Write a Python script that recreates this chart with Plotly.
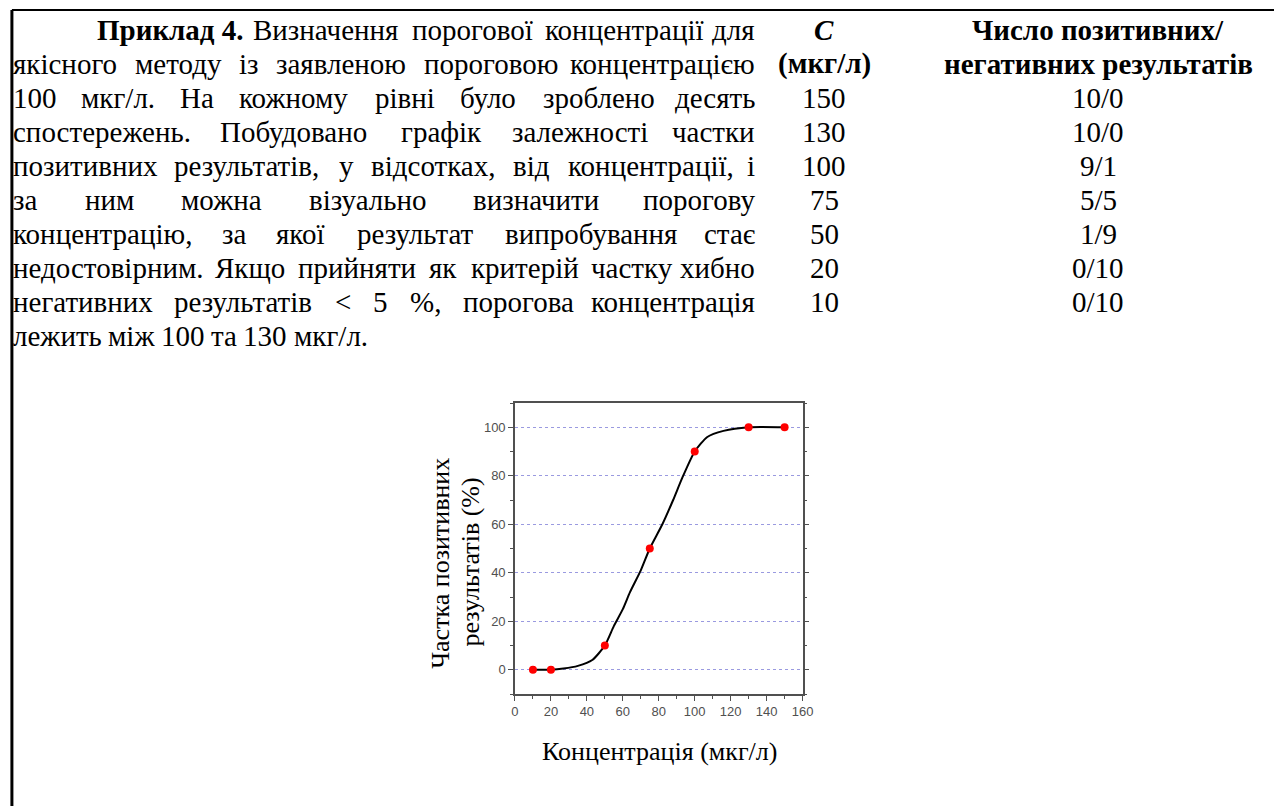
import plotly.graph_objects as go

# ---------------- data ----------------
conc_points = [10, 20, 50, 75, 100, 130, 150]
pct_points = [0, 0, 10, 50, 90, 100, 100]

curve_x = [10, 20, 27, 35, 43, 50, 55, 60, 64, 70, 75, 82, 88, 93, 100, 107, 116, 130, 150]
curve_y = [0, 0, 0.5, 1.6, 4, 10, 18, 25, 32, 41, 50, 60, 70, 79, 90, 96, 98.5, 100, 100]

table_c = ["150", "130", "100", "75", "50", "20", "10"]
table_ratio = ["10/0", "10/0", "9/1", "5/5", "1/9", "0/10", "0/10"]

para_lines = [
    "Визначення порогової концентрації для",
    "якісного методу із заявленою пороговою концентрацією",
    "100 мкг/л. На кожному рівні було зроблено десять",
    "спостережень. Побудовано графік залежності частки",
    "позитивних результатів, у відсотках, від концентрації, і",
    "за ним можна візуально визначити порогову",
    "концентрацію, за якої результат випробування стає",
    "недостовірним. Якщо прийняти як критерій частку хибно",
    "негативних результатів < 5 %, порогова концентрація",
    "лежить між 100 та 130 мкг/л.",
]
lead_bold = "Приклад 4."

x_ticks = [0, 20, 40, 60, 80, 100, 120, 140, 160]
y_ticks = [0, 20, 40, 60, 80, 100]

# ---------------- layout helpers ----------------
W, H = 1285, 806
def px(x):
    return x / W
def py(y):
    return 1 - y / H

SERIF = "Liberation Serif"
FS = 29

# approximate Times/Liberation Serif advance widths (per 1000 em)
WID = {
    'а': 444, 'б': 509, 'в': 472, 'г': 410, 'д': 509, 'е': 444, 'є': 440, 'ж': 691,
    'з': 395, 'и': 535, 'і': 278, 'ї': 278, 'й': 535, 'к': 486, 'л': 499, 'м': 633,
    'н': 535, 'о': 500, 'п': 535, 'р': 500, 'с': 444, 'т': 437, 'у': 500, 'ф': 648,
    'х': 500, 'ц': 535, 'ч': 503, 'ш': 770, 'щ': 770, 'ь': 456, 'ю': 747, 'я': 484,
    'П': 722, 'Н': 722, 'Я': 667, 'Ч': 667, 'К': 722, 'Б': 556, 'В': 667,
    ' ': 250, '.': 250, ',': 250, '/': 278, '<': 564, '%': 833, '(': 333, ')': 333,
}
def wwidth(word, fs, bold=False):
    tot = sum(WID.get(ch, 500) for ch in word)
    if bold:
        tot *= 1.065
    return tot * fs / 1000.0

def txt(text, x, y, size, xanchor="center", **kw):
    d = dict(text=text, x=px(x), y=py(y), xref="paper", yref="paper",
             xanchor=xanchor, yanchor="middle", showarrow=False,
             font=dict(family=SERIF, size=size, color="black"))
    d.update(kw)
    return d

annotations = []
LINE_Y0, LINE_DY = 30, 34
X_LEFT, X_RIGHT, INDENT = 7, 762, 92

for i, line in enumerate(para_lines):
    y = LINE_Y0 + i * LINE_DY
    items = [(w, False) for w in line.split(" ")]
    start = X_LEFT
    if i == 0:
        items = [(lead_bold, True)] + items
        start = INDENT
    justify = i != len(para_lines) - 1
    widths = [wwidth(w, FS, bold=b) for w, b in items]
    if justify and len(items) > 1:
        gap = (X_RIGHT - start - sum(widths)) / (len(items) - 1)
    else:
        gap = wwidth(" ", FS)
    x = start
    for k, ((w, b), wd) in enumerate(zip(items, widths)):
        last = justify and k == len(items) - 1
        annotations.append(txt(f"<b>{w}</b>" if b else w,
                               X_RIGHT if last else x, y, FS,
                               xanchor="right" if last else "left"))
        x += wd + gap

# table
COL1, COL2 = 830, 1107
annotations.append(txt("<b><i>C</i></b>", COL1, LINE_Y0, FS))
annotations.append(txt("<b>(мкг/л)</b>", COL1, LINE_Y0 + LINE_DY, FS))
annotations.append(txt("<b>Число позитивних/</b>", COL2, LINE_Y0, FS))
annotations.append(txt("<b>негативних результатів</b>", COL2, LINE_Y0 + LINE_DY, FS))
for r, (c, q) in enumerate(zip(table_c, table_ratio)):
    y = LINE_Y0 + (r + 2) * LINE_DY
    annotations.append(txt(c, COL1, y, FS))
    annotations.append(txt(q, COL2, y, FS))

# axis titles
annotations.append(txt("Частка позитивних", 441, 563, 26, textangle=-90))
annotations.append(txt("результатів (%)", 471, 562, 26, textangle=-90))
annotations.append(txt("Концентрація (мкг/л)", 663, 751, 26))

# ---------------- figure ----------------
fig = go.Figure()
fig.add_trace(go.Scatter(x=curve_x, y=curve_y, mode="lines",
                         line=dict(color="black", width=2, shape="spline", smoothing=0.6),
                         hoverinfo="skip", showlegend=False))
fig.add_trace(go.Scatter(x=conc_points, y=pct_points, mode="markers",
                         marker=dict(color="#ff0000", size=8), showlegend=False))

axis_color = "#505050"
tick_font = dict(family="Liberation Sans", size=13, color="#505050")
fig.update_xaxes(domain=[px(517), px(808)], range=[0, 160], tickvals=x_ticks,
                 showgrid=False, zeroline=False, showline=True, linecolor=axis_color, linewidth=1.5,
                 mirror=True, ticks="outside", ticklen=5, tickcolor=axis_color, tickfont=tick_font,
                 minor=dict(dtick=10, tick0=0, ticks="outside", ticklen=3, tickcolor=axis_color, showgrid=False))
fig.update_yaxes(domain=[py(694), py(403)], range=[-10, 110], tickvals=y_ticks,
                 showgrid=True, gridcolor="#9a9ae0", griddash="dot", gridwidth=1,
                 zeroline=False, showline=True, linecolor=axis_color, linewidth=1.5,
                 mirror="ticks", ticks="outside", ticklen=5, tickcolor=axis_color, tickfont=tick_font,
                 minor=dict(dtick=10, tick0=0, ticks="outside", ticklen=3, tickcolor=axis_color, showgrid=False))

shapes = [
    dict(type="line", xref="paper", yref="paper", x0=px(8), x1=1, y0=py(10), y1=py(10),
         line=dict(color="black", width=2)),
    dict(type="line", xref="paper", yref="paper", x0=px(8), x1=px(8), y0=py(10), y1=0,
         line=dict(color="black", width=3)),
]

fig.update_layout(width=W, height=H, margin=dict(l=0, r=0, t=0, b=0),
                  paper_bgcolor="white", plot_bgcolor="white",
                  annotations=annotations, shapes=shapes, showlegend=False)

fig.write_html("out.html", config={"displayModeBar": False},
               post_script="document.body.style.margin='0';")
